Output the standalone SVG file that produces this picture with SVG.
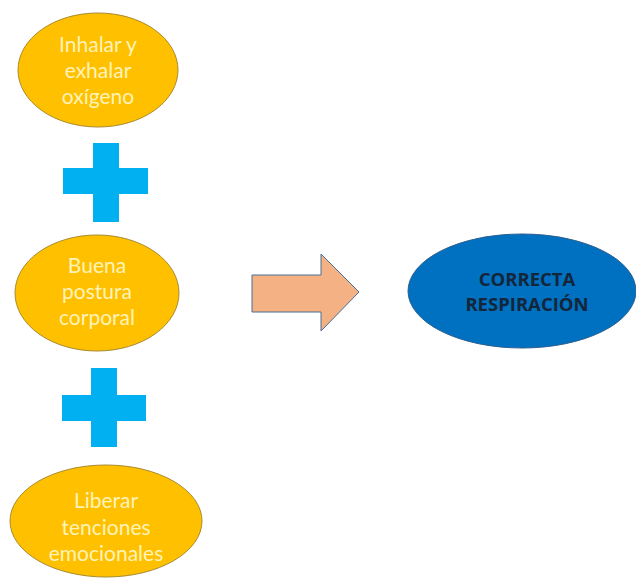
<svg xmlns="http://www.w3.org/2000/svg" width="636" height="580" viewBox="0 0 636 580">
<style>
.oval{fill:#FFC000;stroke:#A88B2E;stroke-width:1}
.otxt{font-family:Lato,"Open Sans",sans-serif;font-size:21px;fill:#FFF3B8;text-anchor:middle}
.plus{fill:#00B0F0}
.btxt{font-family:"Open Sans","Liberation Sans",sans-serif;font-size:18.5px;font-weight:bold;fill:#13263A;text-anchor:middle}
</style>
<rect width="636" height="580" fill="#FFFFFF"/>
<g id="node-inhalar">
<ellipse class="oval" cx="98" cy="70" rx="80" ry="57"/>
<text class="otxt" x="98" y="52">Inhalar y</text>
<text class="otxt" x="98" y="78">exhalar</text>
<text class="otxt" x="98" y="104">oxígeno</text>
</g>
<g id="plus-1">
<path class="plus" d="M93,143 H119 V168 H148 V194 H119 V222 H93 V194 H63 V168 H93 Z"/>
</g>
<g id="node-postura">
<ellipse class="oval" cx="97" cy="293" rx="82" ry="58"/>
<text class="otxt" x="97" y="273">Buena</text>
<text class="otxt" x="97" y="299">postura</text>
<text class="otxt" x="97" y="325">corporal</text>
</g>
<g id="plus-2">
<path class="plus" d="M91,368 H117 V395 H146 V421 H117 V447 H91 V421 H62 V395 H91 Z"/>
</g>
<g id="node-liberar">
<ellipse class="oval" cx="106" cy="521" rx="96" ry="56"/>
<text class="otxt" x="106" y="508">Liberar</text>
<text class="otxt" x="106" y="535">tenciones</text>
<text class="otxt" x="106" y="561">emocionales</text>
</g>
<g id="connectors">
<path d="M252,275 H321 V254 L359,292 L321,331 V312 H252 Z" fill="#F4B183" stroke="#4A6E96" stroke-width="1"/>
</g>
<g id="node-correcta">
<ellipse cx="522" cy="291" rx="114" ry="57" fill="#0070C0" stroke="#2C5F8F" stroke-width="1"/>
<text class="btxt" x="527" y="286">CORRECTA</text>
<text class="btxt" x="527" y="311">RESPIRACIÓN</text>
</g>
</svg>
